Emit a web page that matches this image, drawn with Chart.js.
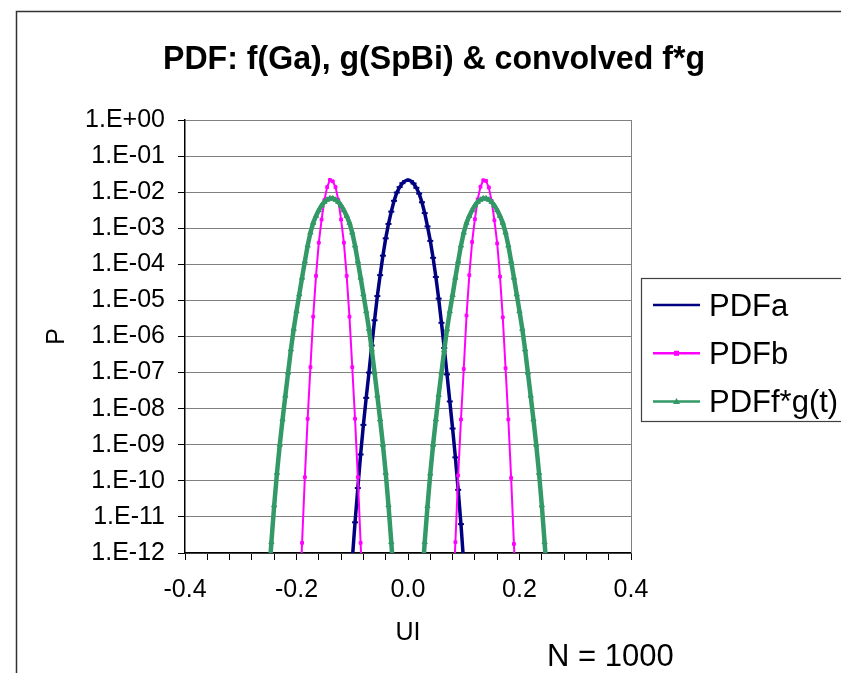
<!DOCTYPE html>
<html>
<head>
<meta charset="utf-8">
<script src="https://cdn.jsdelivr.net/npm/chart.js@4.4.1/dist/chart.umd.min.js"></script>
<style>
  body { margin: 0; background: #fff; }
  canvas { display: block; }
</style>
</head>
<body>
<canvas id="grafico-pdf" width="841" height="673"></canvas>
<script>
// UI positions (x) shared by all series
const ui = [
  -0.250, -0.245, -0.240, -0.235, -0.230, -0.225, -0.220, -0.215, -0.210, -0.205,
  -0.200, -0.195, -0.190, -0.185, -0.180, -0.175, -0.170, -0.165, -0.160, -0.155,
  -0.150, -0.145, -0.140, -0.135, -0.130, -0.125, -0.120, -0.115, -0.110, -0.105,
  -0.100, -0.095, -0.090, -0.085, -0.080, -0.075, -0.070, -0.065, -0.060, -0.055,
  -0.050, -0.045, -0.040, -0.035, -0.030, -0.025, -0.020, -0.015, -0.010, -0.005,
  0.000,
  0.005, 0.010, 0.015, 0.020, 0.025, 0.030, 0.035, 0.040, 0.045, 0.050,
  0.055, 0.060, 0.065, 0.070, 0.075, 0.080, 0.085, 0.090, 0.095, 0.100,
  0.105, 0.110, 0.115, 0.120, 0.125, 0.130, 0.135, 0.140, 0.145, 0.150,
  0.155, 0.160, 0.165, 0.170, 0.175, 0.180, 0.185, 0.190, 0.195, 0.200,
  0.205, 0.210, 0.215, 0.220, 0.225, 0.230, 0.235, 0.240, 0.245, 0.250
];

// values, in decades (log10 P); null = not plotted
const pdfaLog = [
  null, null, null, null, null, null, null, null, null, null,
  null, null, null, null, null, null, null, null, null, null,
  null, null, null, null, null, null, null, null, null, null,
  -12.2, -11.15, -10.2, -9.27, -8.45, -7.7, -7.0, -6.25, -5.55, -4.88,
  -4.30, -3.76, -3.28, -2.88, -2.54, -2.24, -2.01, -1.86, -1.75, -1.69,
  -1.66,
  -1.69, -1.76, -1.88, -2.04, -2.28, -2.58, -2.95, -3.35, -3.82, -4.35,
  -4.95, -5.62, -6.32, -7.05, -7.8, -8.55, -9.35, -10.25, -11.2, -12.3,
  null, null, null, null, null, null, null, null, null, null,
  null, null, null, null, null, null, null, null, null, null,
  null, null, null, null, null, null, null, null, null, null
];

const pdfbLog = [
  null, null, null, null, null, null, null, null, null, null,
  null, -13.5, -11.72, -9.9, -8.28, -6.85, -5.45, -4.32, -3.4, -2.76,
  -2.22, -1.86, -1.66, -1.70, -1.86, -2.22, -2.76, -3.4, -4.32, -5.45,
  -6.85, -8.28, -9.9, -11.72, -13.5, null, null, null, null, null,
  null, null, null, null, null, null, null, null, null, null,
  null,
  null, null, null, null, null, null, null, null, null, null,
  null, null, null, null, null, -13.5, -11.7, -9.85, -8.3, -6.9,
  -5.42, -4.3, -3.38, -2.75, -2.2, -1.85, -1.67, -1.69, -1.87, -2.24,
  -2.78, -3.42, -4.34, -5.47, -6.88, -8.3, -9.92, -11.75, -13.5, null,
  null, null, null, null, null, null, null, null, null, null
];

const pdfFgLog = [
  -12.8, -11.7, -10.68, -9.78, -9.0, -8.3, -7.64, -7.0, -6.36, -5.79,
  -5.3, -4.83, -4.37, -3.92, -3.48, -3.12, -2.85, -2.66, -2.5, -2.37,
  -2.27, -2.21, -2.175, -2.175, -2.21, -2.27, -2.37, -2.5, -2.66, -2.85,
  -3.12, -3.48, -3.92, -4.37, -4.83, -5.3, -5.79, -6.36, -7.0, -7.64,
  -8.3, -9.0, -9.78, -10.68, -11.7, -12.8, null, null, null, null,
  null,
  null, null, null, null, -12.8, -11.7, -10.7, -9.8, -9.0, -8.3,
  -7.62, -7.0, -6.38, -5.8, -5.3, -4.85, -4.37, -3.92, -3.48, -3.12,
  -2.85, -2.66, -2.5, -2.37, -2.27, -2.21, -2.175, -2.175, -2.21, -2.27,
  -2.37, -2.5, -2.66, -2.85, -3.12, -3.48, -3.92, -4.37, -4.83, -5.3,
  -5.79, -6.36, -7.0, -7.64, -8.3, -9.0, -9.78, -10.68, -11.7, -12.8
];

const yDecades = [-12, -11, -10, -9, -8, -7, -6, -5, -4, -3, -2, -1, 0];
const seriesNames = ['PDFa', 'PDFb', 'PDFf*g(t)'];
const chartTitle = 'PDF: f(Ga), g(SpBi) & convolved f*g';
const sampleNote = 'N = 1000';

const FONT = '"Liberation Sans", Arial, sans-serif';
const cores = ['#000080', '#ff00ff', '#339966'];
const marcadores = ['line', 'rect', 'triangle'];

function toPoints(logs) {
    return ui.map(function(u, i) {
        return { x: u, y: logs[i] === null ? null : Math.pow(10, logs[i]) };
    });
}

function drawMarker(ctx, style, x, y, r) {
    ctx.beginPath();
    if (style === 'line') {
        ctx.lineWidth = 2;
        ctx.moveTo(x - r, y);
        ctx.lineTo(x + r, y);
        ctx.stroke();
    } else if (style === 'rect') {
        ctx.fillRect(x - r, y - r, 2 * r, 2 * r);
    } else {
        ctx.moveTo(x, y - r - 1);
        ctx.lineTo(x + r + 1, y + r);
        ctx.lineTo(x - r - 1, y + r);
        ctx.closePath();
        ctx.fill();
    }
}

const moldura = {
    id: 'moldura',
    beforeDraw(chart) {
        const ctx = chart.ctx;
        ctx.save();
        ctx.fillStyle = '#fff';
        ctx.fillRect(0, 0, chart.width, chart.height);
        ctx.strokeStyle = '#333';
        ctx.lineWidth = 1.5;
        ctx.strokeRect(16.5, 11.5, 900, 700);
        ctx.restore();
    },
    beforeDatasetsDraw(chart) {
        const ctx = chart.ctx;
        const a = chart.chartArea;
        ctx.save();
        ctx.strokeStyle = '#808080';
        ctx.lineWidth = 1;
        ctx.beginPath();
        ctx.moveTo(Math.round(a.right) + 0.5, a.top);
        ctx.lineTo(Math.round(a.right) + 0.5, a.bottom);
        ctx.stroke();
        ctx.restore();
    },
    afterDraw(chart) {
        const ctx = chart.ctx;
        ctx.save();
        // title
        ctx.font = 'bold 34px ' + FONT;
        const w = ctx.measureText(chartTitle).width;
        ctx.translate(434, 69);
        ctx.scale(542 / w, 1);
        ctx.fillStyle = '#000';
        ctx.textAlign = 'center';
        ctx.textBaseline = 'alphabetic';
        ctx.fillText(chartTitle, 0, 0);
        ctx.restore();

        ctx.save();
        ctx.font = '31px ' + FONT;
        ctx.fillStyle = '#000';
        ctx.textBaseline = 'alphabetic';
        ctx.fillText(sampleNote, 547, 666);

        // legend
        ctx.strokeStyle = '#404040';
        ctx.lineWidth = 1.2;
        ctx.strokeRect(641.5, 278.5, 260, 143);
        seriesNames.forEach(function(nome, i) {
            const y = 305 + 48.3 * i;
            ctx.strokeStyle = cores[i];
            ctx.fillStyle = cores[i];
            ctx.lineWidth = 2.5;
            ctx.beginPath();
            ctx.moveTo(653, y);
            ctx.lineTo(700, y);
            ctx.stroke();
            drawMarker(ctx, marcadores[i], 676.5, y, 2.5);
            ctx.fillStyle = '#000';
            ctx.fillText(nome, 709, y + 10.5);
        });
        ctx.restore();
    }
};

function drawChartPdf() {
    const ctx = document.getElementById('grafico-pdf').getContext('2d');
    const data = {
        datasets: [{
            label: seriesNames[0],
            data: toPoints(pdfaLog),
            borderColor: cores[0],
            backgroundColor: cores[0],
            borderWidth: 3.5,
            pointStyle: 'line',
            pointRadius: 3,
            pointBorderWidth: 2,
            showLine: true,
            order: 3
        }, {
            label: seriesNames[1],
            data: toPoints(pdfbLog),
            borderColor: cores[1],
            backgroundColor: cores[1],
            borderWidth: 2,
            pointStyle: 'rect',
            pointRadius: 2,
            pointBorderWidth: 1,
            showLine: true,
            order: 2
        }, {
            label: seriesNames[2],
            data: toPoints(pdfFgLog),
            borderColor: cores[2],
            backgroundColor: cores[2],
            borderWidth: 4.5,
            pointStyle: 'triangle',
            pointRadius: 3,
            pointBorderWidth: 1,
            showLine: true,
            order: 1
        }]
    };
    const config = {
        type: 'scatter',
        data: data,
        plugins: [moldura],
        options: {
            responsive: false,
            animation: false,
            events: [],
            spanGaps: false,
            layout: {
                padding: { left: 0, right: 210, top: 120, bottom: 0 }
            },
            plugins: {
                legend: false,
                tooltip: false,
                title: false
            },
            scales: {
                x: {
                    type: 'linear',
                    min: -0.4,
                    max: 0.4,
                    afterFit: function(scale) { scale.height = 120; },
                    border: { color: '#000', width: 1.5 },
                    grid: {
                        drawOnChartArea: false,
                        color: '#000',
                        tickColor: '#000',
                        tickLength: 7
                    },
                    ticks: {
                        stepSize: 0.04,
                        autoSkip: false,
                        maxRotation: 0,
                        padding: 15,
                        color: '#000',
                        font: { family: FONT, size: 25 },
                        callback: function(v) {
                            if (Math.abs(v * 5 - Math.round(v * 5)) > 1e-6) return '';
                            return (Math.round(v * 10) / 10).toFixed(1);
                        }
                    },
                    title: {
                        display: true,
                        text: 'UI',
                        color: '#000',
                        font: { family: FONT, size: 25 },
                        padding: { top: 0, bottom: 25 }
                    }
                },
                y: {
                    type: 'logarithmic',
                    min: 1e-12,
                    max: 1,
                    afterFit: function(scale) { scale.width = 185; },
                    afterBuildTicks: function(scale) {
                        scale.ticks = yDecades.map(function(e) { return { value: Math.pow(10, e) }; });
                    },
                    border: { color: '#000', width: 1.5 },
                    grid: {
                        color: '#808080',
                        lineWidth: 1,
                        tickColor: '#000',
                        tickLength: 7
                    },
                    ticks: {
                        autoSkip: false,
                        padding: 13,
                        color: '#000',
                        font: { family: FONT, size: 25 },
                        callback: function(v) {
                            const e = Math.round(Math.log10(v));
                            return '1.E' + (e < 0 ? '-' : '+') + String(Math.abs(e)).padStart(2, '0');
                        }
                    },
                    title: {
                        display: true,
                        text: 'P',
                        color: '#000',
                        font: { family: FONT, size: 25 },
                        padding: { top: 42, bottom: 0 }
                    }
                }
            }
        }
    };
    new Chart(ctx, config);
}

drawChartPdf();
</script>
</body>
</html>
